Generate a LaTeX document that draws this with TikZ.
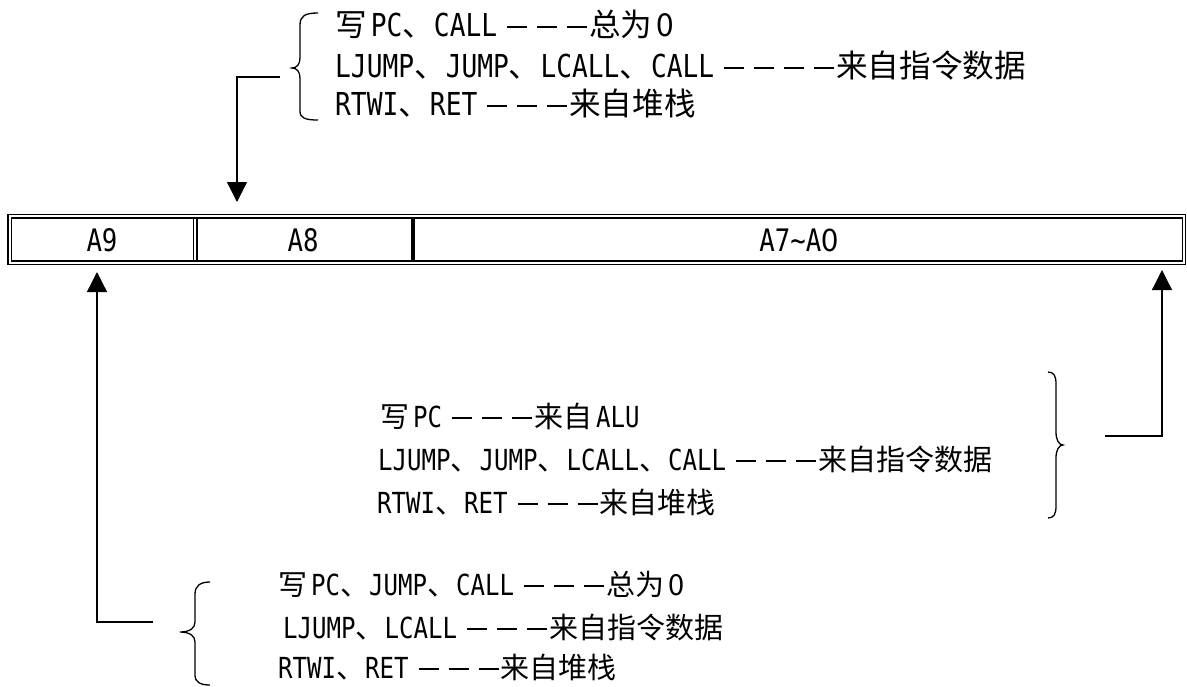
\documentclass[tikz,border=0pt]{standalone}
\usepackage{fontspec}
\setmainfont{Noto Sans CJK SC}
\newfontfamily\latf[FakeStretch=0.83]{DejaVu Sans Mono}
\usetikzlibrary{arrows.meta}
\newcommand\lat[1]{{\latf #1}}
\newcommand\zr{{\rmfamily 0}}
\newcommand\dsh{\hspace{10pt}\rule[8pt]{20pt}{1.6pt}}
\newcommand\dend{\hspace{2pt}}
\newcommand\gp{\hspace{4pt}}
\tikzset{
  txt/.style={anchor=base west, inner sep=0pt, font=\fontsize{29}{34}\selectfont},
  ttxt/.style={anchor=base west, inner sep=0pt, font=\fontsize{31.6}{36}\selectfont},
  cell/.style={inner sep=0pt, font=\fontsize{31}{34}\selectfont\latf},
  ln/.style={line width=1.3pt},
  arr/.style={line width=1.3pt, -{Triangle[length=20pt,width=20pt]}},
  brc/.style={line width=1.3pt},
}
\begin{document}
\begin{tikzpicture}[x=1pt,y=-1pt]
\useasboundingbox (0,0) rectangle (1187,686);
% table
\draw[ln] (8,214.5) rectangle (1185.5,264.5);
\draw[ln] (11.5,218) rectangle (1182.5,261);
\draw[ln] (193.7,218) -- (193.7,261);
\draw[ln] (197,218) -- (197,261);
\draw[line width=3.3pt] (413,218) -- (413,261);
\node[cell] (a9) at (102,240) {A9};
\node[cell] (a8) at (303,240) {A8};
\node[cell] (a70) at (799,240) {A7\char`\~A\zr};
\coordinate (a8in) at (237,202);
\coordinate (a9in) at (97,272);
\coordinate (a70in) at (1162,270);
% top group
\node[ttxt] (t1) at (335,36) {写\gp\lat{PC}、\lat{CALL}\dsh\dsh\dsh\dend 总为\gp\zr};
\node[ttxt] (t2) at (335,77) {\lat{LJUMP}、\lat{JUMP}、\lat{LCALL}、\lat{CALL}\dsh\dsh\dsh\dsh\dend 来自指令数据};
\node[ttxt] (t3) at (335,115) {\lat{RTWI}、\lat{RET}\dsh\dsh\dsh\dend 来自堆栈};
\draw[brc] (318,13) .. controls (305,13) and (300,16) .. (300,25) -- (300,58) .. controls (300,64) and (297,68) .. (292,68) .. controls (297,68) and (300,72) .. (300,78) -- (300,111) .. controls (300,118) and (305,120) .. (318,120);
\coordinate (tsrc) at (280,77);
\draw[arr] (tsrc) -| (a8in);
% middle group
\node[txt] (m1) at (380,427) {写\gp\lat{PC}\dsh\dsh\dsh\dend 来自\gp\lat{ALU}};
\node[txt] (m2) at (378,470) {\lat{LJUMP}、\lat{JUMP}、\lat{LCALL}、\lat{CALL}\dsh\dsh\dsh\dend 来自指令数据};
\node[txt] (m3) at (377,513) {\lat{RTWI}、\lat{RET}\dsh\dsh\dsh\dend 来自堆栈};
\draw[brc] (1048,372) .. controls (1054,372) and (1056,376) .. (1056,384) -- (1056,432) .. controls (1056,440) and (1059,445) .. (1063,445) .. controls (1059,445) and (1056,450) .. (1056,458) -- (1056,506) .. controls (1056,514) and (1054,518) .. (1048,518);
\coordinate (msrc) at (1105,436);
\draw[arr] (msrc) -| (a70in);
% bottom group
\node[txt] (b1) at (278,595) {写\gp\lat{PC}、\lat{JUMP}、\lat{CALL}\dsh\dsh\dsh\dend 总为\gp\zr};
\node[txt] (b2) at (283,638) {\lat{LJUMP}、\lat{LCALL}\dsh\dsh\dsh\dend 来自指令数据};
\node[txt] (b3) at (278,678) {\lat{RTWI}、\lat{RET}\dsh\dsh\dsh\dend 来自堆栈};
\draw[brc] (210,582) .. controls (200,582) and (195,586) .. (195,594) -- (195,622) .. controls (195,628) and (190,632) .. (180,632) .. controls (190,632) and (195,636) .. (195,642) -- (195,675) .. controls (195,682) and (200,685) .. (210,685);
\coordinate (bsrc) at (153,622);
\draw[arr] (bsrc) -| (a9in);
\end{tikzpicture}
\end{document}
